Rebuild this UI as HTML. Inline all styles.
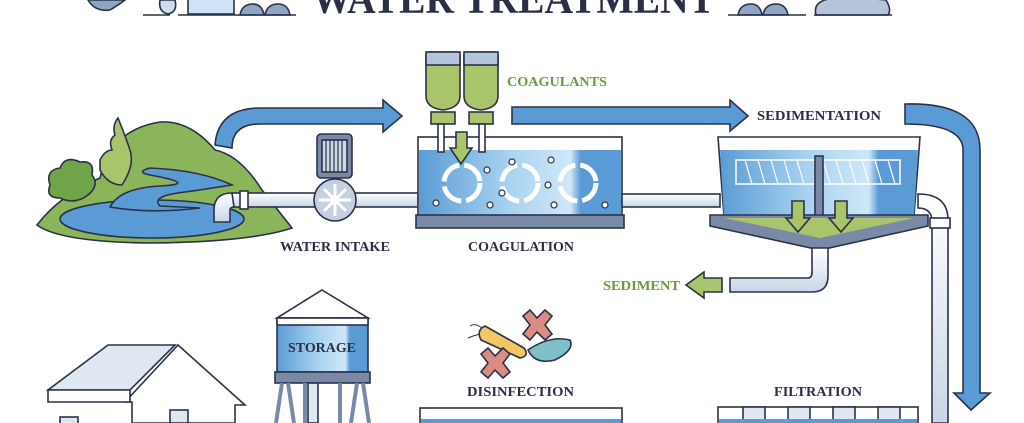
<!DOCTYPE html>
<html><head><meta charset="utf-8"><style>
html,body{margin:0;padding:0;background:#fff;width:1024px;height:423px;overflow:hidden}
svg{display:block}
text{font-family:"Liberation Serif",serif;font-weight:bold}
</style></head><body>
<svg width="1024" height="423" viewBox="0 0 1024 423" xmlns="http://www.w3.org/2000/svg">
<defs>
<linearGradient id="wg" x1="0" x2="1"><stop offset="0" stop-color="#5b9bd5"/><stop offset="0.45" stop-color="#a9d3f0"/><stop offset="0.75" stop-color="#cfe7f8"/><stop offset="0.8" stop-color="#5b9bd5"/><stop offset="1" stop-color="#5b9bd5"/></linearGradient>
<linearGradient id="pg" x1="0" y1="0" x2="0" y2="1"><stop offset="0" stop-color="#fff"/><stop offset="1" stop-color="#c9d6e6"/></linearGradient>
</defs>
<g stroke="#2b3248" stroke-width="1.6">
<text x="312" y="13" font-size="42" fill="#2b2f45" stroke="none" textLength="403" lengthAdjust="spacingAndGlyphs">WATER TREATMENT</text>
<path d="M88 0 Q95 12 110 10 Q120 4 125 0Z" fill="#8fa5c4"/>
<path d="M160 0 Q158 12 168 14 Q178 12 175 0Z" fill="#cfdcee"/>
<rect x="188" y="-4" width="46" height="18" fill="#cfe2f6"/>
<path d="M240 15 Q242 4 253 4 Q262 4 264 15Z M265 15 Q267 4 278 4 Q288 4 290 15Z" fill="#8fa5c4"/>
<path d="M738 15 Q740 4 751 4 Q760 4 762 15Z M763 15 Q765 4 776 4 Q786 4 788 15Z" fill="#8fa5c4"/>
<path d="M816 15 Q812 0 835 -2 Q870 -2 886 0 Q892 10 888 15Z" fill="#b4c4da"/>
<line x1="143" y1="15" x2="170" y2="15"/><line x1="178" y1="15" x2="296" y2="15"/>
<line x1="728" y1="15" x2="806" y2="15"/><line x1="814" y1="15" x2="892" y2="15"/>
<!-- landscape -->
<path d="M37 225 Q60 195 100 178 Q110 130 160 122 Q190 120 215 150 Q240 155 262 190 L292 228 Q250 242 150 243 Q60 242 37 225Z" fill="#8bb55a"/>
<ellipse cx="152" cy="219" rx="92" ry="19" fill="#5b9bd5"/>
<path d="M110 207 Q120 188 160 186 Q200 184 150 175 Q135 172 150 168 Q200 170 232 185 Q200 190 185 192 Q150 196 160 206 L200 208 Q150 214 110 207Z" fill="#5b9bd5"/>
<path d="M50 185 Q45 170 60 168 Q65 155 80 162 Q95 160 92 175 Q100 185 88 195 Q75 205 60 198 Q45 198 50 185Z" fill="#6fa44a"/>
<path d="M100 160 Q105 150 112 150 Q108 140 115 135 Q112 125 118 118 Q125 135 130 150 Q135 165 122 185 Q108 185 100 170Z" fill="#a9c46a"/>
<path d="M215 145 Q218 108 260 108 L383 108 L383 100 L402 116 L383 132 L383 124 L260 124 Q232 124 232 148Z" fill="#5b9bd5"/>
<rect x="232" y="193" width="186" height="14" fill="url(#pg)"/>
<path d="M232 193 Q214 193 214 210 L214 222 L230 222 L230 210 Q230 207 234 207Z" fill="url(#pg)"/>
<rect x="240" y="191" width="8" height="18" fill="#fff"/>
<rect x="317" y="134" width="35" height="44" rx="4" fill="#7a8aa6"/>
<rect x="322" y="140" width="25" height="32" fill="#d0d8e6"/>
<g stroke-width="1.2"><line x1="326" y1="140" x2="326" y2="172"/><line x1="330" y1="140" x2="330" y2="172"/><line x1="334" y1="140" x2="334" y2="172"/><line x1="338" y1="140" x2="338" y2="172"/><line x1="342" y1="140" x2="342" y2="172"/></g>
<circle cx="335" cy="200" r="21" fill="#c4d0e2"/>
<g stroke="#fff" stroke-width="3"><line x1="335" y1="184" x2="335" y2="216"/><line x1="319" y1="200" x2="351" y2="200"/><line x1="324" y1="189" x2="346" y2="211"/><line x1="346" y1="189" x2="324" y2="211"/></g>
<text x="280" y="251" font-size="14" fill="#2b2f45" stroke="none" textLength="110" lengthAdjust="spacingAndGlyphs">WATER INTAKE</text>
<rect x="418" y="137" width="204" height="80" fill="#fff"/>
<rect x="419" y="150" width="202" height="66" fill="url(#wg)" stroke="none"/>
<rect x="416" y="215" width="208" height="13" fill="#7a8aa6"/>
<g fill="none" stroke="#fff" stroke-width="5">
<circle cx="462" cy="183" r="18" stroke-dasharray="24 5"/><circle cx="520" cy="183" r="18" stroke-dasharray="24 5"/><circle cx="578" cy="183" r="18" stroke-dasharray="24 5"/></g>
<g fill="#fff" stroke-width="1.2"><circle cx="436" cy="203" r="3"/><circle cx="487" cy="170" r="3"/><circle cx="502" cy="193" r="3"/><circle cx="490" cy="205" r="3"/><circle cx="551" cy="160" r="3"/><circle cx="548" cy="185" r="3"/><circle cx="554" cy="205" r="3"/><circle cx="605" cy="205" r="3"/><circle cx="512" cy="162" r="3"/></g>
<text x="468" y="251" font-size="14" fill="#2b2f45" stroke="none" textLength="106" lengthAdjust="spacingAndGlyphs">COAGULATION</text>
<path d="M426 56 Q426 52 430 52 L456 52 Q460 52 460 56 L460 96 Q460 108 443 110 Q426 108 426 96Z" fill="#a9c46a"/>
<path d="M464 56 Q464 52 468 52 L494 52 Q498 52 498 56 L498 96 Q498 108 481 110 Q464 108 464 96Z" fill="#a9c46a"/>
<rect x="426" y="52" width="34" height="13" fill="#b4c4da"/><rect x="464" y="52" width="34" height="13" fill="#b4c4da"/>
<rect x="431" y="112" width="24" height="12" fill="#a9c46a"/><rect x="469" y="112" width="24" height="12" fill="#a9c46a"/>
<rect x="438" y="124" width="6" height="28" fill="#fff"/><rect x="479" y="124" width="6" height="28" fill="#fff"/>
<path d="M456 132 L467 132 L467 148 L472 148 L461 164 L450 148 L456 148Z" fill="#a9c46a"/>
<text x="507" y="86" font-size="14" fill="#6a9a3a" stroke="none" textLength="100" lengthAdjust="spacingAndGlyphs">COAGULANTS</text>
<path d="M512 107 L730 107 L730 100 L748 116 L730 131 L730 124 L512 124Z" fill="#5b9bd5"/>
<text x="757" y="120" font-size="14" fill="#2b2f45" stroke="none" textLength="124" lengthAdjust="spacingAndGlyphs">SEDIMENTATION</text>
<rect x="622" y="194" width="98" height="13" fill="url(#pg)"/>
<path d="M718 137 L920 137 L914 216 L724 216Z" fill="#fff"/>
<path d="M720 150 L918 150 L914 216 L724 216Z" fill="url(#wg)" stroke="none"/>
<rect x="736" y="160" width="164" height="24" fill="none" stroke="#fff" stroke-width="1.5"/>
<path d="M745 160 L752 184 M758 160 L765 184 M771 160 L778 184 M784 160 L791 184 M797 160 L804 184 M823 160 L830 184 M836 160 L843 184 M849 160 L856 184 M862 160 L869 184 M875 160 L882 184 M888 160 L895 184" stroke="#fff" stroke-width="1.2"/>
<rect x="815" y="156" width="8" height="62" fill="#7a8aa6"/>
<path d="M710 215 L928 215 L928 226 L820 250 L710 226Z" fill="#7a8aa6"/>
<path d="M724 218 L914 218 L820 238Z" fill="#a9c46a" stroke="none"/>
<path d="M792 201 L804 201 L804 218 L810 218 L798 232 L786 218 L792 218Z" fill="#a9c46a"/>
<path d="M835 201 L847 201 L847 218 L853 218 L841 232 L829 218 L835 218Z" fill="#a9c46a"/>
<path d="M812 248 L828 248 L828 276 Q828 292 812 292 L730 292 L730 278 L808 278 Q812 278 812 272Z" fill="url(#pg)"/>
<path d="M722 278 L704 278 L704 272 L686 285 L704 298 L704 292 L722 292Z" fill="#a9c46a"/>
<text x="603" y="290" font-size="14" fill="#6a9a3a" stroke="none" textLength="77" lengthAdjust="spacingAndGlyphs">SEDIMENT</text>
<path d="M918 194 Q948 194 948 220 L948 423 L932 423 L932 222 Q932 208 918 208Z" fill="url(#pg)"/>
<rect x="930" y="218" width="20" height="10" fill="#fff"/>
<path d="M905 104 Q980 102 980 150 L980 393 L990 393 L971 410 L954 393 L963 393 L963 150 Q963 124 905 124Z" fill="#5b9bd5"/>
<path d="M322 290 L368 318 L277 318Z" fill="#fff"/>
<rect x="277" y="318" width="91" height="54" fill="url(#wg)"/>
<rect x="277" y="318" width="91" height="7" fill="#fff"/>
<rect x="275" y="372" width="95" height="11" fill="#7a8aa6"/>
<path d="M282 383 L276 423 M288 383 L294 423 M305 383 L305 423 M340 383 L340 423 M357 383 L351 423 M363 383 L369 423" stroke-width="4" stroke="#7a8aa6"/>
<rect x="308" y="383" width="10" height="40" fill="#dfe7f1"/>
<text x="288" y="352" font-size="14" fill="#2b2f45" stroke="none" textLength="68" lengthAdjust="spacingAndGlyphs">STORAGE</text>
<path d="M48 390 L130 390 L175 345 L108 345 L48 390Z" fill="#dfe7f1"/>
<path d="M125 402 L178 345 L245 405 L235 405 L235 423 L132 423 L132 402Z" fill="#fff"/>
<path d="M48 390 L130 390 L130 402 L48 402Z" fill="#fff"/>
<rect x="170" y="410" width="18" height="13" fill="#dfe7f1"/>
<rect x="60" y="417" width="18" height="8" fill="#dfe7f1"/>
<path d="M484 330 Q476 322 470 326 M484 333 Q475 335 468 338" fill="none" stroke-width="1"/>
<path d="M485 326 L524 348 Q530 356 520 358 L481 340 Q476 330 485 326Z" fill="#f2c663"/>
<path d="M528 350 Q550 335 570 340 Q575 350 555 360 Q535 365 528 350Z" fill="#7ec0c6"/>
<path d="M530 310 L537 318 L545 310 L552 316 L545 325 L552 334 L545 340 L537 332 L530 340 L523 334 L530 325 L523 316Z" fill="#d88c84"/>
<path d="M488 348 L495 356 L503 348 L510 354 L503 363 L510 372 L503 378 L495 370 L488 378 L481 372 L488 363 L481 354Z" fill="#d88c84"/>
<text x="467" y="396" font-size="14" fill="#2b2f45" stroke="none" textLength="107" lengthAdjust="spacingAndGlyphs">DISINFECTION</text>
<rect x="420" y="408" width="202" height="20" fill="#fff"/>
<rect x="421" y="419" width="200" height="6" fill="#5b9bd5" stroke="none"/>
<text x="774" y="396" font-size="14" fill="#2b2f45" stroke="none" textLength="88" lengthAdjust="spacingAndGlyphs">FILTRATION</text>
<rect x="718" y="407" width="200" height="20" fill="#fff"/>
<rect x="743" y="407" width="22" height="14" fill="#dfe7f1"/><rect x="788" y="407" width="22" height="14" fill="#dfe7f1"/><rect x="833" y="407" width="22" height="14" fill="#dfe7f1"/><rect x="878" y="407" width="22" height="14" fill="#dfe7f1"/>
<rect x="719" y="419" width="198" height="6" fill="#5b9bd5" stroke="none"/>
</g>
</svg>
</body></html>
